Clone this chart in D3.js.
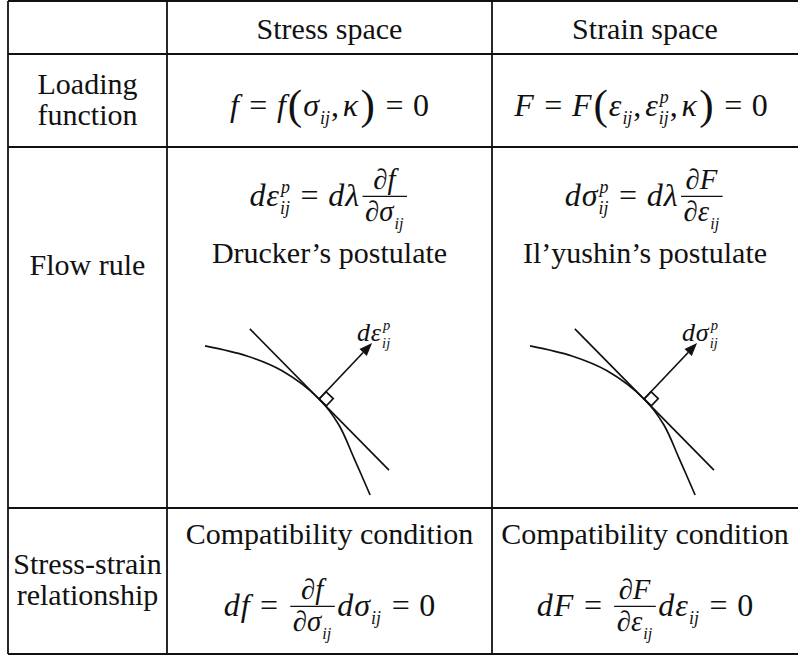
<!DOCTYPE html>
<html>
<head>
<meta charset="utf-8">
<script src="https://cdn.jsdelivr.net/npm/d3@7"></script>
<style>
  html, body { margin: 0; padding: 0; background: #fff; }
  svg { display: block; font-family: "Liberation Serif", "Times New Roman", serif; }
</style>
</head>
<body>
<div id="chart"></div>
<script>
'use strict';

// token helpers for the little formulas
const I = s => ({ k: 'i', s });
const R = s => ({ k: 'r', s });
const OP = s => ({ k: 'op', s });
const P = s => ({ k: 'p', s });
const C = () => ({ k: 'c', s: ',' });
const S = (s, sub, sup) => ({ k: 's', s, sub, sup });
const FR = (num, den) => ({ k: 'fr', num, den });
const D = () => R('\u2202');

// ---- data ----
const columns = ['', 'Stress space', 'Strain space'];
const rowLabels = [['Loading', 'function'], ['Flow rule'], ['Stress-strain', 'relationship']];
const postulates = ['Drucker\u2019s postulate', 'Il\u2019yushin\u2019s postulate'];
const conditionTitles = ['Compatibility condition', 'Compatibility condition'];

const loadingFns = [
  [I('f'), OP('='), I('f'), P('('), S('\u03c3', 'ij'), C(), S('\u03ba'), P(')'), OP('='), R('0')],
  [I('F'), OP('='), I('F'), P('('), S('\u03b5', 'ij'), C(), S('\u03b5', 'ij', 'p'), C(), S('\u03ba'), P(')'), OP('='), R('0')],
];
const flowRules = [
  [I('d'), S('\u03b5', 'ij', 'p'), OP('='), I('d'), I('\u03bb'), FR([D(), I('f')], [D(), S('\u03c3', 'ij')])],
  [I('d'), S('\u03c3', 'ij', 'p'), OP('='), I('d'), I('\u03bb'), FR([D(), I('F')], [D(), S('\u03b5', 'ij')])],
];
const arrowLabels = [
  [I('d'), S('\u03b5', 'ij', 'p')],
  [I('d'), S('\u03c3', 'ij', 'p')],
];
const compatFns = [
  [I('d'), I('f'), OP('='), FR([D(), I('f')], [D(), S('\u03c3', 'ij')]), I('d'), S('\u03c3', 'ij'), OP('='), R('0')],
  [I('d'), I('F'), OP('='), FR([D(), I('F')], [D(), S('\u03b5', 'ij')]), I('d'), S('\u03b5', 'ij'), OP('='), R('0')],
];

// sketch of the yield surface, tangent and normal (units 0..100 in each cell)
const surfaceX = [11.7, 24.6, 35.4, 46.8, 52.9, 57.5, 62.5];
const surfaceY = [44.9, 42.1, 38.0, 30.2, 23.0, 13.9, 3.6];
const tangentX = [25.5, 68.3];
const tangentY = [49.6, 10.5];
const touchIndex = 3;
const normalTip = [63.1, 45.7];

// ---- layout ----
const W = 798, H = 658;
const gridX = [8, 167, 492, 798];
const gridY = [1, 54, 147, 508, 654];
const FS = 30;      // body text
const MS = 32;      // math
const ink = '#111';

const svg = d3.select('#chart').append('svg')
  .attr('width', W)
  .attr('height', H);

// table rules
const rules = svg.append('g').attr('stroke', ink).attr('stroke-width', 1.8);
rules.selectAll('line.h').data(gridY).join('line')
  .attr('class', 'h')
  .attr('x1', gridX[0]).attr('x2', gridX[3])
  .attr('y1', d => d).attr('y2', d => d);
rules.selectAll('line.v').data(gridX.slice(0, 3)).join('line')
  .attr('class', 'v')
  .attr('x1', d => d).attr('x2', d => d)
  .attr('y1', gridY[0]).attr('y2', gridY[4]);

const colMid = i => (gridX[i] + gridX[i + 1]) / 2;

function plain(x, y, s, size = FS) {
  svg.append('text')
    .attr('x', x).attr('y', y)
    .attr('text-anchor', 'middle')
    .attr('font-size', size)
    .attr('fill', ink)
    .text(s);
}

// ---- math typesetting (very small) ----
function txt(g, s, x, y, fs, italic) {
  const t = g.append('text')
    .attr('x', x).attr('y', y)
    .attr('font-size', fs)
    .attr('font-style', italic ? 'italic' : 'normal')
    .attr('fill', ink)
    .text(s);
  return t.node().getComputedTextLength();
}

function put(g, tk, x, y, fs) {
  if (tk.k === 'i') return txt(g, tk.s, x, y, fs, true) + fs * 0.03;
  if (tk.k === 'r') return txt(g, tk.s, x, y, fs, false);
  if (tk.k === 'c') return txt(g, tk.s, x, y, fs, false) + fs * 0.12;
  if (tk.k === 'op') {
    const pad = fs * 0.3;
    return pad * 2 + txt(g, tk.s, x + pad, y, fs, false);
  }
  if (tk.k === 'p') {
    const w = txt(g, tk.s, x + 1, y + fs * 0.1, fs * 1.35, false);
    return w + 2;
  }
  if (tk.k === 's') {
    const w = txt(g, tk.s, x, y, fs, true);
    const small = fs * 0.56;
    let sw = 0;
    if (tk.sub) sw = Math.max(sw, txt(g, tk.sub, x + w + 1, y + fs * 0.26, small, true));
    if (tk.sup) sw = Math.max(sw, txt(g, tk.sup, x + w + 2, y - fs * 0.41, small, true) + 1);
    return w + (sw ? sw + 2 : fs * 0.04);
  }
  if (tk.k === 'fr') {
    const gn = g.append('g'), gd = g.append('g');
    const ps = fs * 0.9;
    let wn = 0, wd = 0;
    const axis = y - fs * 0.3;
    tk.num.forEach(t => { wn += put(gn, t, wn, axis - fs * 0.24, ps); });
    tk.den.forEach(t => { wd += put(gd, t, wd, axis + fs * 0.78, ps); });
    const wf = Math.max(wn, wd) + fs * 0.16;
    const x0 = x + fs * 0.08;
    gn.attr('transform', `translate(${x0 + (wf - wn) / 2},0)`);
    gd.attr('transform', `translate(${x0 + (wf - wd) / 2},0)`);
    g.append('line')
      .attr('x1', x0).attr('x2', x0 + wf)
      .attr('y1', axis).attr('y2', axis)
      .attr('stroke', ink).attr('stroke-width', 1.4);
    return wf + fs * 0.16;
  }
  return 0;
}

function formula(tokens, cx, baseline, fs = MS, anchor = 'middle') {
  const g = svg.append('g');
  let x = 0;
  tokens.forEach(tk => { x += put(g, tk, x, 0, fs); });
  const left = anchor === 'middle' ? cx - x / 2 : cx;
  g.attr('transform', `translate(${left},${baseline})`);
  return g;
}

// ---- header ----
[1, 2].forEach(i => plain(colMid(i), 39, columns[i]));

// ---- row labels ----
plain(colMid(0), 94, rowLabels[0][0]);
plain(colMid(0), 125, rowLabels[0][1]);
plain(colMid(0), 275, rowLabels[1][0]);
plain(colMid(0), 574, rowLabels[2][0]);
plain(colMid(0), 605, rowLabels[2][1]);

// ---- cells ----
[0, 1].forEach(j => {
  const col = j + 1;
  formula(loadingFns[j], colMid(col) - 4 * j, 116);
  formula(flowRules[j], colMid(col), 206);
  plain(colMid(col), 263, postulates[j]);
  plain(colMid(col), 544, conditionTitles[j]);
  formula(compatFns[j], colMid(col), 616);

  // the sketch
  const x = d3.scaleLinear().domain([0, 100]).range([gridX[col], gridX[col] + 325]);
  const y = d3.scaleLinear().domain([0, 100]).range([gridY[3], gridY[2]]);
  const sk = svg.append('g')
    .attr('fill', 'none')
    .attr('stroke', ink)
    .attr('stroke-width', 1.7);

  const pts = surfaceX.map((v, k) => [v, surfaceY[k]]);
  sk.append('path')
    .attr('d', d3.line().x(d => x(d[0])).y(d => y(d[1])).curve(d3.curveCatmullRom)(pts));
  sk.append('path')
    .attr('d', d3.line().x(d => x(d[0])).y(d => y(d[1]))(tangentX.map((v, k) => [v, tangentY[k]])));

  const px = x(surfaceX[touchIndex]), py = y(surfaceY[touchIndex]);
  const tx = x(normalTip[0]), ty = y(normalTip[1]);
  const len = Math.hypot(tx - px, ty - py);
  const n = [(tx - px) / len, (ty - py) / len];
  const t = [-n[1], n[0]];
  const a = 10;
  sk.append('path')
    .attr('d', `M${px},${py}L${px + a * n[0]},${py + a * n[1]}` +
      `L${px + a * n[0] + a * t[0]},${py + a * n[1] + a * t[1]}L${px + a * t[0]},${py + a * t[1]}Z`);

  const hl = 13, hw = 5;
  const bx = tx - n[0] * hl, by = ty - n[1] * hl;
  sk.append('line')
    .attr('x1', px).attr('y1', py).attr('x2', bx).attr('y2', by);
  svg.append('path')
    .attr('fill', ink)
    .attr('d', `M${tx},${ty}L${bx + t[0] * hw},${by + t[1] * hw}L${bx - t[0] * hw},${by - t[1] * hw}Z`);

  formula(arrowLabels[j], tx - 15, ty - 2, 26, 'start');
});
</script>
</body>
</html>
